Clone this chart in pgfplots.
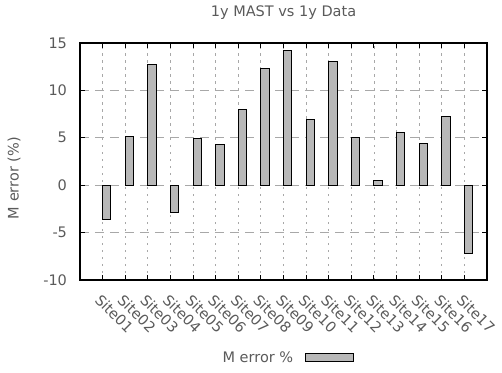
\documentclass[border=0pt]{standalone}
\usepackage{pgfplots}
\pgfplotsset{compat=1.18}
\usepackage{fontspec}
\setmainfont{DejaVu Sans}
\definecolor{txt}{HTML}{5A5A5A}
\definecolor{barfill}{HTML}{B8B8B8}
\definecolor{gridc}{HTML}{A8A8A8}
\begin{document}
\fontsize{14.5bp}{17bp}\selectfont
\begin{tikzpicture}
\begin{axis}[
  name=ax,
  scale only axis, width=407bp, height=237bp,
  xmin=0, xmax=18, ymin=-10, ymax=15,
  xtick={1,...,17},
  xticklabels={Site01,Site02,Site03,Site04,Site05,Site06,Site07,Site08,Site09,Site10,Site11,Site12,Site13,Site14,Site15,Site16,Site17},
  ytick={-10,-5,0,5,10,15},
  /pgf/number format/assume math mode=true,
  tick align=inside,
  major tick length=5bp,
  tick style={black, line width=1pt},
  axis line style={black, line width=1.3pt},
  xmajorgrids, ymajorgrids,
  x grid style={gridc, line width=0.8pt, dash pattern=on 2.5bp off 4.5bp},
  y grid style={gridc, line width=0.8pt, dash pattern=on 9bp off 6bp},
  tick label style={text=txt},
  xticklabel style={rotate=-45, anchor=north west, xshift=4bp, yshift=-5bp},
  yticklabel style={xshift=-8bp},
  title={1y MAST vs 1y Data},
  every axis title/.style={at={(axis description cs:0.5,1)}, anchor=center, yshift=30bp, text=txt},
  ylabel={M error (\%)},
  ylabel style={at={(axis description cs:-0.162,0.43)}, anchor=center, text=txt},
  legend plot pos=right,
  legend image code/.code={\path[draw=none,fill=none] (0bp,-4bp) rectangle (1bp,4bp);\draw[#1] (10bp,-4bp) rectangle (58bp,4bp);},
  legend style={at={(axis description cs:0.509,-0.329)}, anchor=center, draw=none, fill=none, text=txt},
]
\addplot[ybar, bar width=0.37, bar shift=0.185, fill=barfill, draw=black, line width=1pt]
coordinates {
(1,-3.6) (2,5.17) (3,12.76) (4,-2.92) (5,4.96) (6,4.32) (7,7.98) (8,12.34) (9,14.24)
(10,6.93) (11,13.08) (12,4.99) (13,0.49) (14,5.56) (15,4.36) (16,7.28) (17,-7.21)
};
\addlegendentry{M error \%}
\end{axis}
\pgfresetboundingbox
\path[use as bounding box] ([shift={(-80bp,-93bp)}]ax.south west) rectangle ([shift={(422bp,280bp)}]ax.south west);
\end{tikzpicture}
\end{document}
